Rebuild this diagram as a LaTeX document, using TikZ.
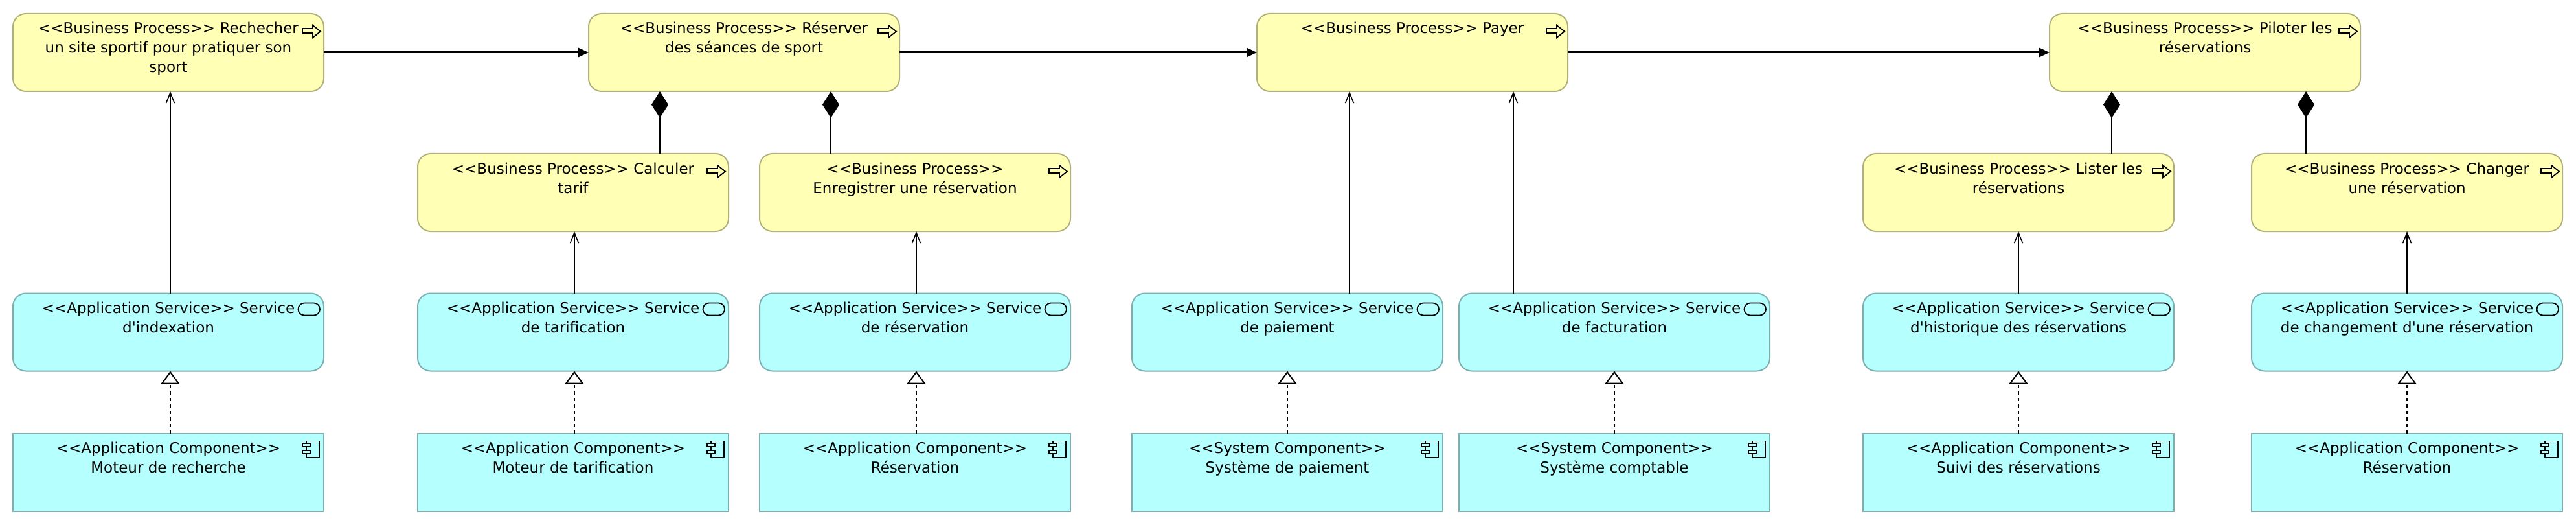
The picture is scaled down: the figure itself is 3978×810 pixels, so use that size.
\documentclass[tikz,border=0pt]{standalone}
\usepackage{fontspec}
\setmainfont{DejaVu Sans}[Ligatures=TeXOff]
\usetikzlibrary{arrows.meta}
\definecolor{procfill}{HTML}{FFFFB5}
\definecolor{procline}{HTML}{B0B07A}
\definecolor{appfill}{HTML}{B5FFFF}
\definecolor{appline}{HTML}{7EAEAE}
\newcommand{\lbl}[1]{\parbox[c][120pt][t]{480pt}{\centering\fontsize{23}{30}\selectfont\vspace*{10pt}\strut #1\strut}}
\newcommand{\procicon}[1]{\begin{scope}[shift={(#1.north east)}]
\draw[iconline] (-33,23)--(-17,23)--(-17,18)--(-5,27.5)--(-17,37)--(-17,30)--(-33,30)--cycle;
\end{scope}}
\newcommand{\servicon}[1]{\begin{scope}[shift={(#1.north east)}]
\draw[iconline,rounded corners=9.4pt] (-39.5,15) rectangle (-6,34);
\end{scope}}
\newcommand{\compicon}[1]{\begin{scope}[shift={(#1.north east)}]
\draw[iconline] (-27,12)--(-7,12)--(-7,37)--(-27,37)--cycle;
\draw[iconline,fill=appfill] (-33,15.5) rectangle (-21,20.5);
\draw[iconline,fill=appfill] (-33,26.5) rectangle (-21,31.5);
\end{scope}}
\tikzset{
 x=1pt,y=-1pt,
 basebox/.style={inner sep=0pt,outer sep=0pt,line width=2pt,minimum width=480pt,minimum height=120pt,anchor=north west},
 procbox/.style={basebox,draw=procline,fill=procfill,rounded corners=20pt},
 servbox/.style={basebox,draw=appline,fill=appfill,rounded corners=20pt},
 compbox/.style={basebox,draw=appline,fill=appfill},
 iconline/.style={draw=black,line width=1.8pt},
 flowline/.style={draw=black,line width=3pt,-{Triangle[length=16pt,width=14pt]}},
 serveline/.style={draw=black,line width=2pt,-{Straight Barb[length=16pt,width=13pt,line width=1.6pt]}},
 compoline/.style={draw=black,line width=2pt,{Diamond[length=41pt,width=26pt]}-},
 realline/.style={draw=black,line width=2pt,dash pattern=on 5pt off 5pt,-{Triangle[open,length=20pt,width=29pt,fill=white,line width=2pt,sep=0pt]}},
}
\begin{document}
\begin{tikzpicture}
\useasboundingbox (0,0) rectangle (3978,810);
% business processes, top row
\node[procbox] (b1) at (20,21) {\lbl{<<Business Process>> Rechecher\\un site sportif pour pratiquer son\\sport}};
\node[procbox] (b2) at (909,21) {\lbl{<<Business Process>> Réserver\\des séances de sport}};
\node[procbox] (b3) at (1941,21) {\lbl{<<Business Process>> Payer}};
\node[procbox] (b4) at (3165,21) {\lbl{<<Business Process>> Piloter les\\réservations}};
% sub-processes
\node[procbox] (c1) at (645,237) {\lbl{<<Business Process>> Calculer\\tarif}};
\node[procbox] (c2) at (1173,237) {\lbl{<<Business Process>>\\Enregistrer une réservation}};
\node[procbox] (c3) at (2877,237) {\lbl{<<Business Process>> Lister les\\réservations}};
\node[procbox] (c4) at (3477,237) {\lbl{<<Business Process>> Changer\\une réservation}};
% application services
\node[servbox] (s1) at (20,452.5) {\lbl{<<Application Service>> Service\\d'indexation}};
\node[servbox] (s2) at (645,452.5) {\lbl{<<Application Service>> Service\\de tarification}};
\node[servbox] (s3) at (1173,452.5) {\lbl{<<Application Service>> Service\\de réservation}};
\node[servbox] (s4) at (1748,452.5) {\lbl{<<Application Service>> Service\\de paiement}};
\node[servbox] (s5) at (2253,452.5) {\lbl{<<Application Service>> Service\\de facturation}};
\node[servbox] (s6) at (2877,452.5) {\lbl{<<Application Service>> Service\\d'historique des réservations}};
\node[servbox] (s7) at (3477,452.5) {\lbl{<<Application Service>> Service\\de changement d'une réservation}};
% components
\node[compbox] (a1) at (20,668.5) {\lbl{<<Application Component>>\\Moteur de recherche}};
\node[compbox] (a2) at (645,668.5) {\lbl{<<Application Component>>\\Moteur de tarification}};
\node[compbox] (a3) at (1173,668.5) {\lbl{<<Application Component>>\\Réservation}};
\node[compbox] (a4) at (1748,668.5) {\lbl{<<System Component>>\\Système de paiement}};
\node[compbox] (a5) at (2253,668.5) {\lbl{<<System Component>>\\Système comptable}};
\node[compbox] (a6) at (2877,668.5) {\lbl{<<Application Component>>\\Suivi des réservations}};
\node[compbox] (a7) at (3477,668.5) {\lbl{<<Application Component>>\\Réservation}};
% icons
\foreach \n in {b1,b2,b3,b4,c1,c2,c3,c4}{\procicon{\n}}
\foreach \n in {s1,s2,s3,s4,s5,s6,s7}{\servicon{\n}}
\foreach \n in {a1,a2,a3,a4,a5,a6,a7}{\compicon{\n}}
% flows
\draw[flowline] (b1.east) -- (b2.west);
\draw[flowline] (b2.east) -- (b3.west);
\draw[flowline] (b3.east) -- (b4.west);
% serving
\draw[serveline] ([xshift=3pt]s1.north) coordinate (t1) -- (t1 |- b1.south);
\draw[serveline] ([xshift=2pt]s2.north) coordinate (t2) -- (t2 |- c1.south);
\draw[serveline] ([xshift=2pt]s3.north) coordinate (t3) -- (t3 |- c2.south);
\draw[serveline] ([xshift=96pt]s4.north) coordinate (t4) -- (t4 |- b3.south);
\draw[serveline] ([xshift=-156pt]s5.north) coordinate (t5) -- (t5 |- b3.south);
\draw[serveline] ([xshift=0pt]s6.north) coordinate (t6) -- (t6 |- c3.south);
\draw[serveline] ([xshift=0pt]s7.north) coordinate (t7) -- (t7 |- c4.south);
% composition
\draw[compoline] (b2.south -| 1019,0) -- (c1.north -| 1019,0);
\draw[compoline] (b2.south -| 1283,0) -- (c2.north -| 1283,0);
\draw[compoline] (b4.south -| 3261,0) -- (c3.north -| 3261,0);
\draw[compoline] (b4.south -| 3561,0) -- (c4.north -| 3561,0);
% realization
\draw[realline] ([xshift=3pt]a1.north) -- ([xshift=3pt]s1.south);
\draw[realline] ([xshift=2pt]a2.north) -- ([xshift=2pt]s2.south);
\draw[realline] ([xshift=2pt]a3.north) -- ([xshift=2pt]s3.south);
\draw[realline] (a4.north) -- (s4.south);
\draw[realline] (a5.north) -- (s5.south);
\draw[realline] (a6.north) -- (s6.south);
\draw[realline] (a7.north) -- (s7.south);
\end{tikzpicture}
\end{document}
